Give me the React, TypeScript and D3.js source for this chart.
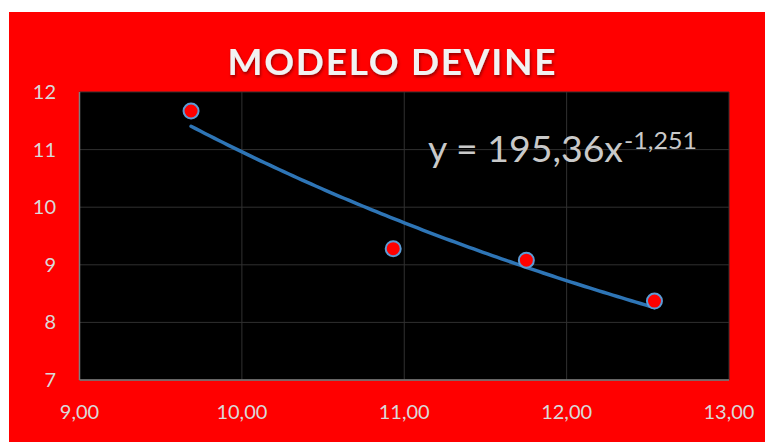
import React from "react";
import * as d3 from "d3";

const xValues = [9.687, 10.932, 11.752, 12.541];
const yValues = [11.67, 9.28, 9.08, 8.37];
const xTicks = [9, 10, 11, 12, 13];
const yTicks = [7, 8, 9, 10, 11, 12];
const coefA = 195.36;
const coefB = -1.251;
const title = "MODELO DEVINE";

export default function App() {
  const W = 765, H = 442;
  const left = 79.5, right = 729, top = 92, bottom = 380;
  const x = d3.scaleLinear().domain([9, 13]).range([left, right]);
  const y = d3.scaleLinear().domain([7, 12]).range([bottom, top]);
  const fmtX = (v: number) => d3.format(".2f")(v).replace(".", ",");

  const trendPts = d3.range(0, 101).map((i) => {
    const xv = xValues[0] + (xValues[xValues.length - 1] - xValues[0]) * (i / 100);
    return [xv, coefA * Math.pow(xv, coefB)] as [number, number];
  });
  const line = d3.line<[number, number]>().x((d) => x(d[0])).y((d) => y(d[1])).curve(d3.curveLinear);

  const font = "Lato, 'Open Sans', sans-serif";
  return (
    <svg width={W} height={H} style={{ position: "absolute", left: 0, top: 0 }}>
      <defs>
        <filter id="sh" x="-10%" y="-30%" width="120%" height="160%">
          <feDropShadow dx="1" dy="2" stdDeviation="1.5" floodColor="#7a0000" floodOpacity="0.8" />
        </filter>
      </defs>
      <rect x={0} y={0} width={W} height={H} fill="#fff" />
      <rect x={9} y={12} width={W - 9} height={H - 12} fill="#ff0000" />
      <text x={391.5} y={74.5} textAnchor="middle" fill="#f2f2f2" fontFamily={font} fontWeight={700}
        fontSize={37} textLength={328} lengthAdjust="spacing" filter="url(#sh)">{title}</text>
      <rect x={left} y={top} width={right - left} height={bottom - top} fill="#000" />
      {yTicks.map((t) => (
        <line key={"gy" + t} x1={left} x2={right} y1={y(t)} y2={y(t)} stroke="#303030" strokeWidth={1} />
      ))}
      {xTicks.map((t) => (
        <line key={"gx" + t} x1={x(t)} x2={x(t)} y1={top} y2={bottom} stroke="#303030" strokeWidth={1} />
      ))}
      <line x1={left} x2={left} y1={top} y2={bottom} stroke="#7f7f7f" strokeWidth={1.5} />
      <line x1={left} x2={right} y1={bottom} y2={bottom} stroke="#7f7f7f" strokeWidth={1.5} />
      {yTicks.map((t) => (
        <text key={"ly" + t} x={56} y={y(t) + 7} textAnchor="end" fill="#d9d9d9" fontFamily={font} fontSize={20}>{t}</text>
      ))}
      {xTicks.map((t) => (
        <text key={"lx" + t} x={x(t)} y={419} textAnchor="middle" fill="#d9d9d9" fontFamily={font} fontSize={20}>{fmtX(t)}</text>
      ))}
      <path d={line(trendPts) || ""} fill="none" stroke="#2e75b6" strokeWidth={3.5} strokeLinecap="round" />
      {xValues.map((xv, i) => (
        <circle key={"p" + i} cx={x(xv)} cy={y(yValues[i])} r={7.5} fill="#ff0000" stroke="#5b9bd5" strokeWidth={2} />
      ))}
      <text x={428} y={161.5} fill="#c9c9c9" fontFamily={font} fontSize={37} textLength={195} lengthAdjust="spacingAndGlyphs">y = 195,36x</text>
      <text x={624} y={149} fill="#c9c9c9" fontFamily={font} fontSize={24} textLength={73} lengthAdjust="spacingAndGlyphs">-1,251</text>
    </svg>
  );
}
